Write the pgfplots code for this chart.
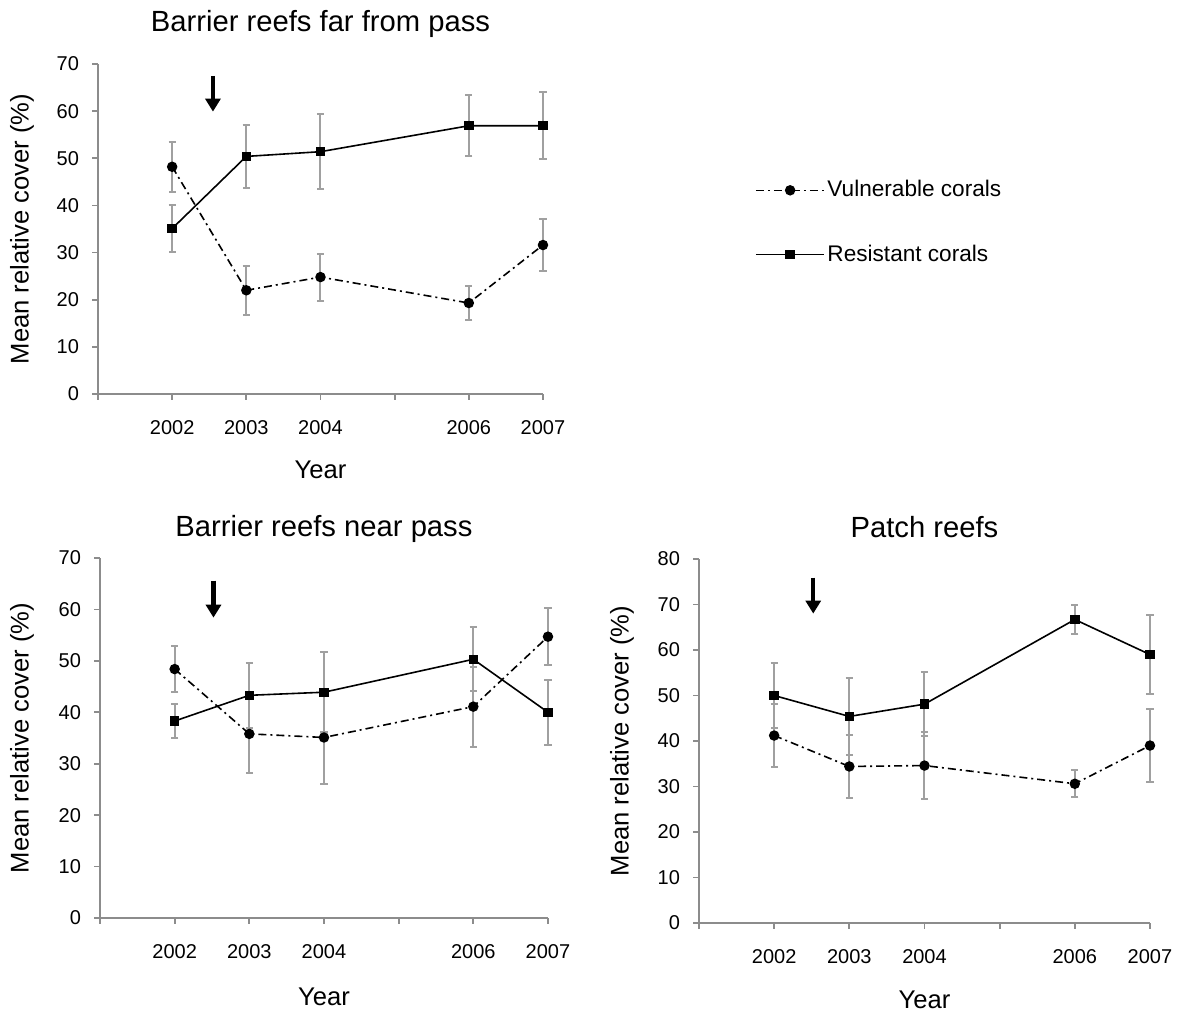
\documentclass[border=0pt]{standalone}
\usepackage{pgfplots}
\pgfplotsset{compat=1.18}
\usepackage{fontspec}
\setmainfont{Liberation Sans}
\usetikzlibrary{arrows.meta}
\definecolor{axgray}{HTML}{8C8C8C}
\definecolor{ergray}{HTML}{A0A0A0}
\tikzset{arr/.style={line width=2.2pt, -{Triangle[width=7.5pt,length=6.5pt]}}}
\pgfplotsset{
  panel/.style={
    scale only axis, anchor=south west, clip=false,
    axis x line=bottom, axis y line=left,
    axis line style={axgray, line width=0.9pt, -},
    tick style={axgray, line width=0.9pt},
    tick align=outside, major tick length=3pt,
    xmin=2001, xmax=2007, ymin=0,
    xtick={2001,2002,2003,2004,2005,2006,2007},
    xticklabels={,2002,2003,2004,,2006,2007},
    /pgf/number format/assume math mode=true,
    ticklabel style={font=\fontsize{10}{11}\selectfont},
    xticklabel style={yshift=-6.5pt},
    yticklabel style={xshift=-3pt},
    title style={font=\fontsize{14.6}{16}\selectfont, at={(axis description cs:0.5,1)}, anchor=center},
    xlabel={Year}, ylabel={Mean relative cover (\%)},
    label style={font=\fontsize{12.8}{15}\selectfont},
    xlabel style={at={(axis description cs:0.5,0)}, anchor=center, yshift=-38pt},
    ylabel style={at={(axis description cs:-0.171,0.5)}, anchor=center},
    error bars/y dir=both, error bars/y explicit,
    error bars/error bar style={ergray, line width=1pt, solid},
    error bars/error mark options={rotate=90, ergray, mark size=1.8pt, line width=1pt, solid},
  },
  vuln/.style={black, line width=0.8pt, dash pattern=on 4pt off 2pt on 1pt off 2pt, mark=*, mark size=2.2pt, mark options={solid}},
  resi/.style={black, line width=0.8pt, solid, mark=square*, mark size=1.95pt, mark options={solid}},
}
\begin{document}
\begin{tikzpicture}
\useasboundingbox (0,0) rectangle (590pt,508.5pt);
% Top panel
\begin{axis}[panel, at={(49pt,311.5pt)}, width=222.5pt, height=165pt,
  ymax=70, ytick={0,10,...,70},
  title={Barrier reefs far from pass}, title style={yshift=14pt},
  legend style={draw=none, fill=none, at={(axis description cs:1.476,0.52)}, anchor=west,
    font=\fontsize{11.3}{13}\selectfont, row sep=20pt, inner sep=0pt,
    nodes={inner sep=1.2pt}},
  legend cell align=left,
  legend image code/.code={\draw[mark repeat=2,mark phase=2] plot coordinates {(0cm,0cm)(0.6cm,0cm)(1.2cm,0cm)};},
]
\addplot[vuln] coordinates {(2002,48.2)+-(0,5.3) (2003,22.0)+-(0,5.2) (2004,24.8)+-(0,5.0) (2006,19.3)+-(0,3.6) (2007,31.6)+-(0,5.5)};
\addlegendentry{Vulnerable corals}
\addplot[resi] coordinates {(2002,35.1)+-(0,5.0) (2003,50.4)+-(0,6.7) (2004,51.4)+-(0,8.0) (2006,56.9)+-(0,6.5) (2007,56.9)+-(0,7.1)};
\addlegendentry{Resistant corals}
\draw[arr] (axis cs:2002.55,67.5) -- (axis cs:2002.55,59.9);
\end{axis}
% Bottom-left panel
\begin{axis}[panel, at={(50pt,49.5pt)}, width=224pt, height=180pt,
  ymax=70, ytick={0,10,...,70},
  title={Barrier reefs near pass}, title style={yshift=8.5pt},
  xlabel style={yshift=-1.5pt},
  ylabel style={at={(axis description cs:-0.174,0.5)}},
]
\addplot[vuln] coordinates {(2002,48.4)+-(0,4.4) (2003,35.8)+-(0,7.7) (2004,35.1)+-(0,9.1) (2006,41.1)+-(0,7.8) (2007,54.7)+-(0,5.5)};
\addplot[resi] coordinates {(2002,38.3)+-(0,3.3) (2003,43.3)+-(0,6.3) (2004,43.9)+-(0,7.8) (2006,50.3)+-(0,6.2) (2007,40.0)+-(0,6.3)};
\draw[arr] (axis cs:2002.52,65.6) -- (axis cs:2002.52,58.4);
\end{axis}
% Bottom-right panel
\begin{axis}[panel, at={(349.5pt,47pt)}, width=225.5pt, height=182pt,
  ymax=80, ytick={0,10,...,80},
  title={Patch reefs}, title style={yshift=10pt},
  xlabel style={yshift=-0.5pt},
]
\addplot[vuln] coordinates {(2002,41.2)+-(0,6.9) (2003,34.4)+-(0,6.9) (2004,34.6)+-(0,7.4) (2006,30.6)+-(0,3.0) (2007,39.0)+-(0,8.0)};
\addplot[resi] coordinates {(2002,50.0)+-(0,7.1) (2003,45.4)+-(0,8.4) (2004,48.1)+-(0,7.1) (2006,66.7)+-(0,3.1) (2007,59.0)+-(0,8.6)};
\draw[arr] (axis cs:2002.52,75.9) -- (axis cs:2002.52,68.0);
\end{axis}
\end{tikzpicture}
\end{document}
